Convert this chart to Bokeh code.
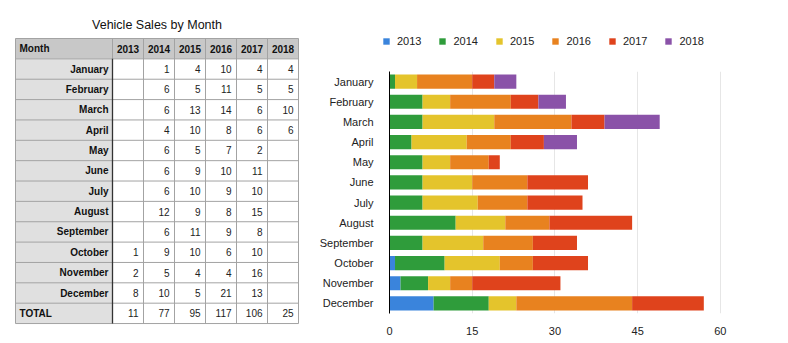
from bokeh.plotting import figure
from bokeh.layouts import row, column
from bokeh.models import Range1d, FixedTicker, Legend, LegendItem, ColumnDataSource, FactorRange
from bokeh.core.properties import value
from bokeh.embed import file_html
from bokeh.resources import INLINE

title = "Vehicle Sales by Month"
months = ["January", "February", "March", "April", "May", "June", "July",
          "August", "September", "October", "November", "December"]
years = ["2013", "2014", "2015", "2016", "2017", "2018"]
sales_2013 = [None, None, None, None, None, None, None, None, None, 1, 2, 8]
sales_2014 = [1, 6, 6, 4, 6, 6, 6, 12, 6, 9, 5, 10]
sales_2015 = [4, 5, 13, 10, 5, 9, 10, 9, 11, 10, 4, 5]
sales_2016 = [10, 11, 14, 8, 7, 10, 9, 8, 9, 6, 4, 21]
sales_2017 = [4, 5, 6, 6, 2, 11, 10, 15, 8, 10, 16, 13]
sales_2018 = [4, 5, 10, 6, None, None, None, None, None, None, None, None]
x_ticks = [0, 15, 30, 45, 60]
colors = ["#3a84dc", "#2f9c3b", "#e4c42c", "#e8821f", "#df431c", "#8a52a8"]

series = [sales_2013, sales_2014, sales_2015, sales_2016, sales_2017, sales_2018]
FONT = "Liberation Sans"

# ---------------- table ----------------
TW, H = 315, 343
t = figure(width=TW, height=H, x_range=Range1d(0, TW), y_range=Range1d(H, 0),
           toolbar_location=None, output_backend="svg", min_border=0,
           x_axis_location=None, y_axis_location=None)
t.frame_align = False
t.grid.visible = False
t.outline_line_color = None

left, top = 15, 38
month_w, year_w = 97, 31
row_h = 20.36
n_rows = len(months) + 2
col_edges = [left, left + month_w] + [left + month_w + year_w * (i + 1) for i in range(len(years))]
right = col_edges[-1]
bottom = top + row_h * n_rows

t.quad(left=[left], right=[right], top=[top], bottom=[top + row_h], fill_color="#c8c8c8", line_color=None)
t.quad(left=[left], right=[left + month_w], top=[top + row_h], bottom=[bottom], fill_color="#e0e0e0", line_color=None)

hy = [top + row_h * i for i in range(n_rows + 1)]
t.segment(x0=[left] * len(hy), x1=[right] * len(hy), y0=hy, y1=hy, line_color="#a3a3a3", line_width=1)
t.segment(x0=col_edges, x1=col_edges, y0=[top] * len(col_edges), y1=[bottom] * len(col_edges),
          line_color="#a3a3a3", line_width=1)
t.segment(x0=[left + month_w], x1=[left + month_w], y0=[top + row_h], y1=[bottom], line_color="#333333", line_width=1.3)

t.text(x=[(left + right) / 2], y=[24], text=[title], text_font=value(FONT), text_font_size="12.5px",
       text_align="center", text_baseline="middle", text_color="#111111")

hdr_y = top + row_h / 2
t.text(x=[left + 4], y=[hdr_y], text=["Month"], text_font=value(FONT), text_font_size="10px",
       text_font_style="bold", text_align="left", text_baseline="middle", text_color="#111111")
t.text(x=[(col_edges[i + 1] + col_edges[i + 2]) / 2 for i in range(len(years))], y=[hdr_y] * len(years),
       text=years, text_font=value(FONT), text_font_size="10px", text_font_style="bold",
       text_align="center", text_baseline="middle", text_color="#111111")

row_y = [top + row_h * (i + 1.5) for i in range(len(months))]
t.text(x=[left + month_w - 4] * len(months), y=row_y, text=months, text_font=value(FONT),
       text_font_size="10px", text_font_style="bold", text_align="right", text_baseline="middle",
       text_color="#111111")
tot_y = top + row_h * (n_rows - 0.5)
t.text(x=[left + 4], y=[tot_y], text=["TOTAL"], text_font=value(FONT), text_font_size="10px",
       text_font_style="bold", text_align="left", text_baseline="middle", text_color="#111111")

vx, vy, vt = [], [], []
for j, s in enumerate(series):
    xr = col_edges[j + 2] - 5
    for i, v in enumerate(s):
        if v is not None:
            vx.append(xr); vy.append(row_y[i]); vt.append(str(v))
    vx.append(xr); vy.append(tot_y); vt.append(str(sum(v for v in s if v is not None)))
t.text(x=vx, y=vy, text=vt, text_font=value(FONT), text_font_size="10px", text_align="right",
       text_baseline="middle", text_color="#222222")

# ---------------- chart data ----------------
CW = 788 - TW
LH = 71
data = {"month": months}
for y, s in zip(years, series):
    data[y] = [v if v is not None else 0 for v in s]
src = ColumnDataSource(data)

# ---------------- legend strip ----------------
lg = figure(width=CW, height=LH, y_range=FactorRange(factors=months[::-1]), x_range=Range1d(-20, -10),
            toolbar_location=None, output_backend="svg", min_border=0,
            x_axis_location=None, y_axis_location=None)
lg.frame_align = False
lg.grid.visible = False
lg.outline_line_color = None
lrs = lg.hbar_stack(years, y="month", height=0.7, fill_color=colors, line_color=None, source=src)
legend = Legend(items=[LegendItem(label=y, renderers=[r]) for y, r in zip(years, lrs)],
                location=(67, 24), orientation="horizontal", padding=0, margin=0,
                border_line_color=None, background_fill_alpha=0, glyph_width=8, glyph_height=8,
                label_standoff=7, spacing=17, label_text_font=FONT, label_text_font_size="11px",
                label_text_color="#222222", label_height=13)
lg.add_layout(legend)

# ---------------- chart ----------------
c = figure(width=CW, height=H - LH, y_range=FactorRange(factors=months[::-1]), x_range=Range1d(0, 70),
           toolbar_location=None, output_backend="svg",
           min_border_left=74, min_border_right=13, min_border_top=0, min_border_bottom=30)
c.frame_align = False
c.outline_line_color = None
c.hbar_stack(years, y="month", height=0.7, fill_color=colors, line_color=None, source=src)

c.xaxis.ticker = FixedTicker(ticks=x_ticks)
c.xaxis.axis_line_color = None
c.xaxis.major_tick_line_color = None
c.xaxis.minor_tick_line_color = None
c.xaxis.major_label_text_font = FONT
c.xaxis.major_label_text_font_size = "11px"
c.xaxis.major_label_text_color = "#222222"
c.xaxis.major_label_standoff = 7
c.yaxis.axis_line_color = "#000000"
c.yaxis.major_tick_line_color = None
c.yaxis.minor_tick_line_color = None
c.yaxis.major_label_text_font = FONT
c.yaxis.major_label_text_font_size = "11px"
c.yaxis.major_label_text_color = "#222222"
c.yaxis.major_label_standoff = 10
c.ygrid.grid_line_color = None
c.xgrid.grid_line_color = "#e6e6e6"
c.xgrid.ticker = FixedTicker(ticks=x_ticks)

layout = row(t, column(lg, c, spacing=0), spacing=0)
open("out.html", "w").write(file_html(layout, INLINE))
